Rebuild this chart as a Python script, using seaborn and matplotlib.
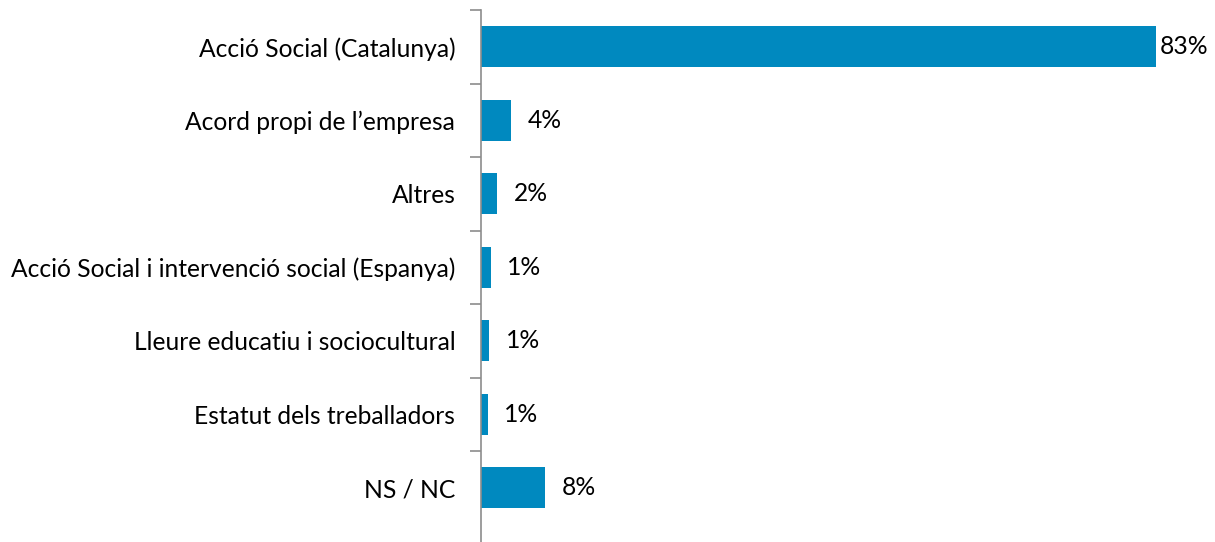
import matplotlib
matplotlib.use('Agg')
import matplotlib.pyplot as plt
import seaborn as sb
import pandas as pd

categories = [
    'Acció Social (Catalunya)',
    'Acord propi de l’empresa',
    'Altres',
    'Acció Social i intervenció social (Espanya)',
    'Lleure educatiu i sociocultural',
    'Estatut dels treballadors',
    'NS / NC',
]
values = [83.0, 3.7, 2.0, 1.2, 1.0, 0.8, 7.9]
labels = ['83%', '4%', '2%', '1%', '1%', '1%', '8%']

BLUE = '#0089BF'


def main():
    sb.set_style('white')
    plt.rcParams['font.family'] = ['Lato', 'DejaVu Sans']

    df = pd.DataFrame({'cat': categories, 'val': values})

    fig = plt.figure(figsize=(12.15, 5.42), dpi=100)
    ax = fig.add_axes([481 / 1215, 0, 1 - 481 / 1215, 1 - 10 / 542])
    sb.barplot(data=df, x='val', y='cat', orient='h', color=BLUE,
               saturation=1, width=0.56, linewidth=0, ax=ax)

    ax.set_xlim(0, 90.3)
    ax.set_ylim(6.5 + 17.5 / 73.5, -0.5)
    ax.set_xlabel('')
    ax.set_ylabel('')
    ax.set_xticks([])

    for side in ['top', 'right', 'bottom']:
        ax.spines[side].set_visible(False)
    ax.spines['left'].set_color('#8c8c8c')
    ax.spines['left'].set_linewidth(1.2)

    # ticks between categories (none at the bottom), labels centered on bars
    ax.set_yticks([i - 0.5 for i in range(len(categories))], minor=True)
    ax.tick_params(axis='y', which='minor', left=True, length=8, width=1.2,
                   color='#8c8c8c', direction='out')
    ax.tick_params(axis='y', which='major', left=True, length=0, pad=18.5,
                   labelsize=17.7, labelcolor='black')

    for i, (v, lab) in enumerate(zip(values, labels)):
        off = 3 if v > 50 else 12
        ax.annotate(lab, (v, i), xytext=(off, 0), textcoords='offset points',
                    va='center', ha='left', fontsize=17.7, color='black',
                    annotation_clip=False)

    fig.savefig('out.png', dpi=100)


if __name__ == '__main__':
    main()
